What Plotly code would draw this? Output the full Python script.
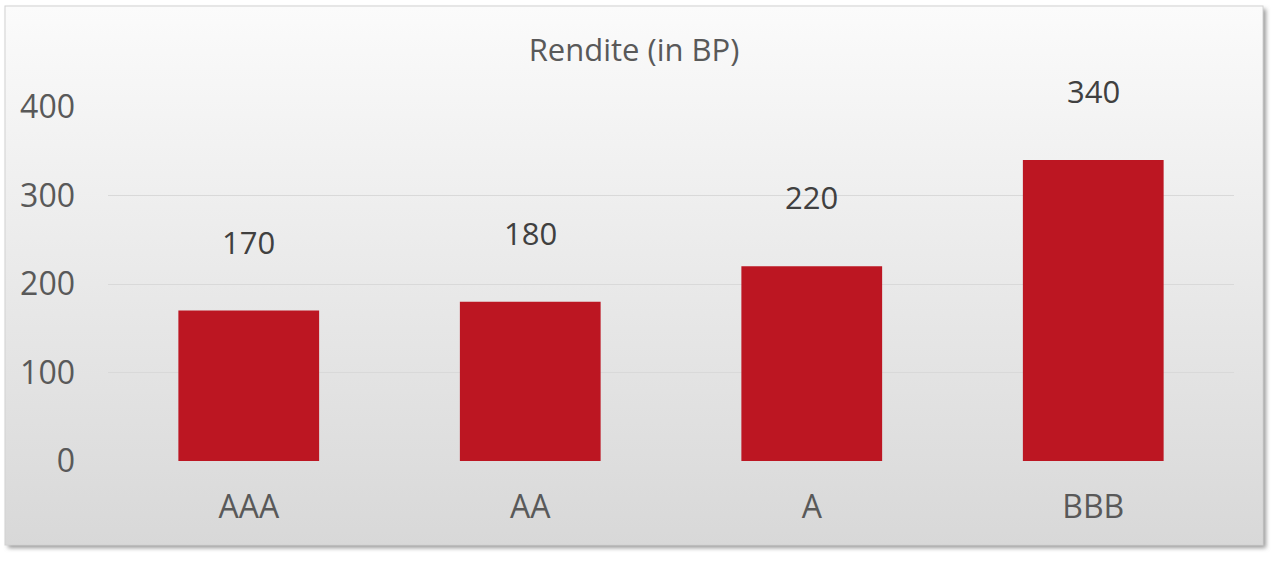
import base64
import plotly.graph_objects as go

# ── data ──────────────────────────────────────────────────────────────────────
ratings = ["AAA", "AA", "A", "BBB"]
rendite_bp = [170, 180, 220, 340]
y_ticks = [0, 100, 200, 300, 400]

# ── geometry / style ─────────────────────────────────────────────────────────
W, H = 1279, 563
ml, mr, mt, mb = 108, 45, 107, 102
pw, ph = W - ml - mr, H - mt - mb
BAR_RED = "#BC1622"
TXT = "#595959"
FONT = "Open Sans"

# chart-area background: gradient box with a soft drop shadow (Excel look)
svg = f"""<svg xmlns="http://www.w3.org/2000/svg" width="{W}" height="{H}" viewBox="0 0 {W} {H}" preserveAspectRatio="none">
<defs>
<linearGradient id="g" x1="0" y1="0" x2="0" y2="1">
<stop offset="0" stop-color="#fbfbfb"/><stop offset="1" stop-color="#d8d8d8"/>
</linearGradient>
<filter id="s" x="-5%" y="-5%" width="110%" height="110%"><feGaussianBlur stdDeviation="2"/></filter>
</defs>
<rect x="8" y="9" width="1258" height="539" fill="#9a9a9a" filter="url(#s)"/>
<rect x="5" y="6" width="1258" height="539" fill="url(#g)" stroke="#d2d2d2" stroke-width="1"/>
</svg>"""
bg_uri = "data:image/svg+xml;base64," + base64.b64encode(svg.encode()).decode()

fig = go.Figure(go.Bar(
    x=ratings, y=rendite_bp,
    marker=dict(color=BAR_RED, line=dict(width=0)),
    hoverinfo="skip",
))

# data labels, floated well above the bars
for cat, val in zip(ratings, rendite_bp):
    fig.add_annotation(x=cat, y=val, text=str(val), showarrow=False,
                       yshift=69, yanchor="middle",
                       font=dict(family=FONT, size=31, color="#404040"))

fig.update_layout(
    width=W, height=H,
    margin=dict(l=ml, r=mr, t=mt, b=mb, pad=0),
    paper_bgcolor="white",
    plot_bgcolor="rgba(0,0,0,0)",
    bargap=0.5,
    showlegend=False,
    font=dict(family=FONT, color=TXT),
    title=dict(text="Rendite (in BP)", x=634 / W, xanchor="center",
               y=1 - 50 / H, yanchor="middle", yref="container",
               font=dict(family=FONT, size=31, color=TXT)),
    images=[dict(source=bg_uri, xref="paper", yref="paper",
                 x=-ml / pw, y=1 + mt / ph, sizex=W / pw, sizey=H / ph,
                 xanchor="left", yanchor="top", sizing="stretch",
                 layer="below")],
)
fig.update_xaxes(showgrid=False, showline=False, zeroline=False, ticks="",
                 tickfont=dict(family=FONT, size=32, color=TXT),
                 ticklabelstandoff=24)
fig.update_yaxes(range=[0, 400], tickvals=y_ticks, showgrid=True,
                 gridcolor="#d9d9d9", gridwidth=1, zeroline=False,
                 showline=False, ticks="",
                 tickfont=dict(family=FONT, size=32, color=TXT),
                 ticklabelstandoff=32)

# page body has an 8px default margin; drop it so the figure sits at 0,0
fig.write_html("out.html", config={"displayModeBar": False},
               post_script="document.body.style.margin='0';")
